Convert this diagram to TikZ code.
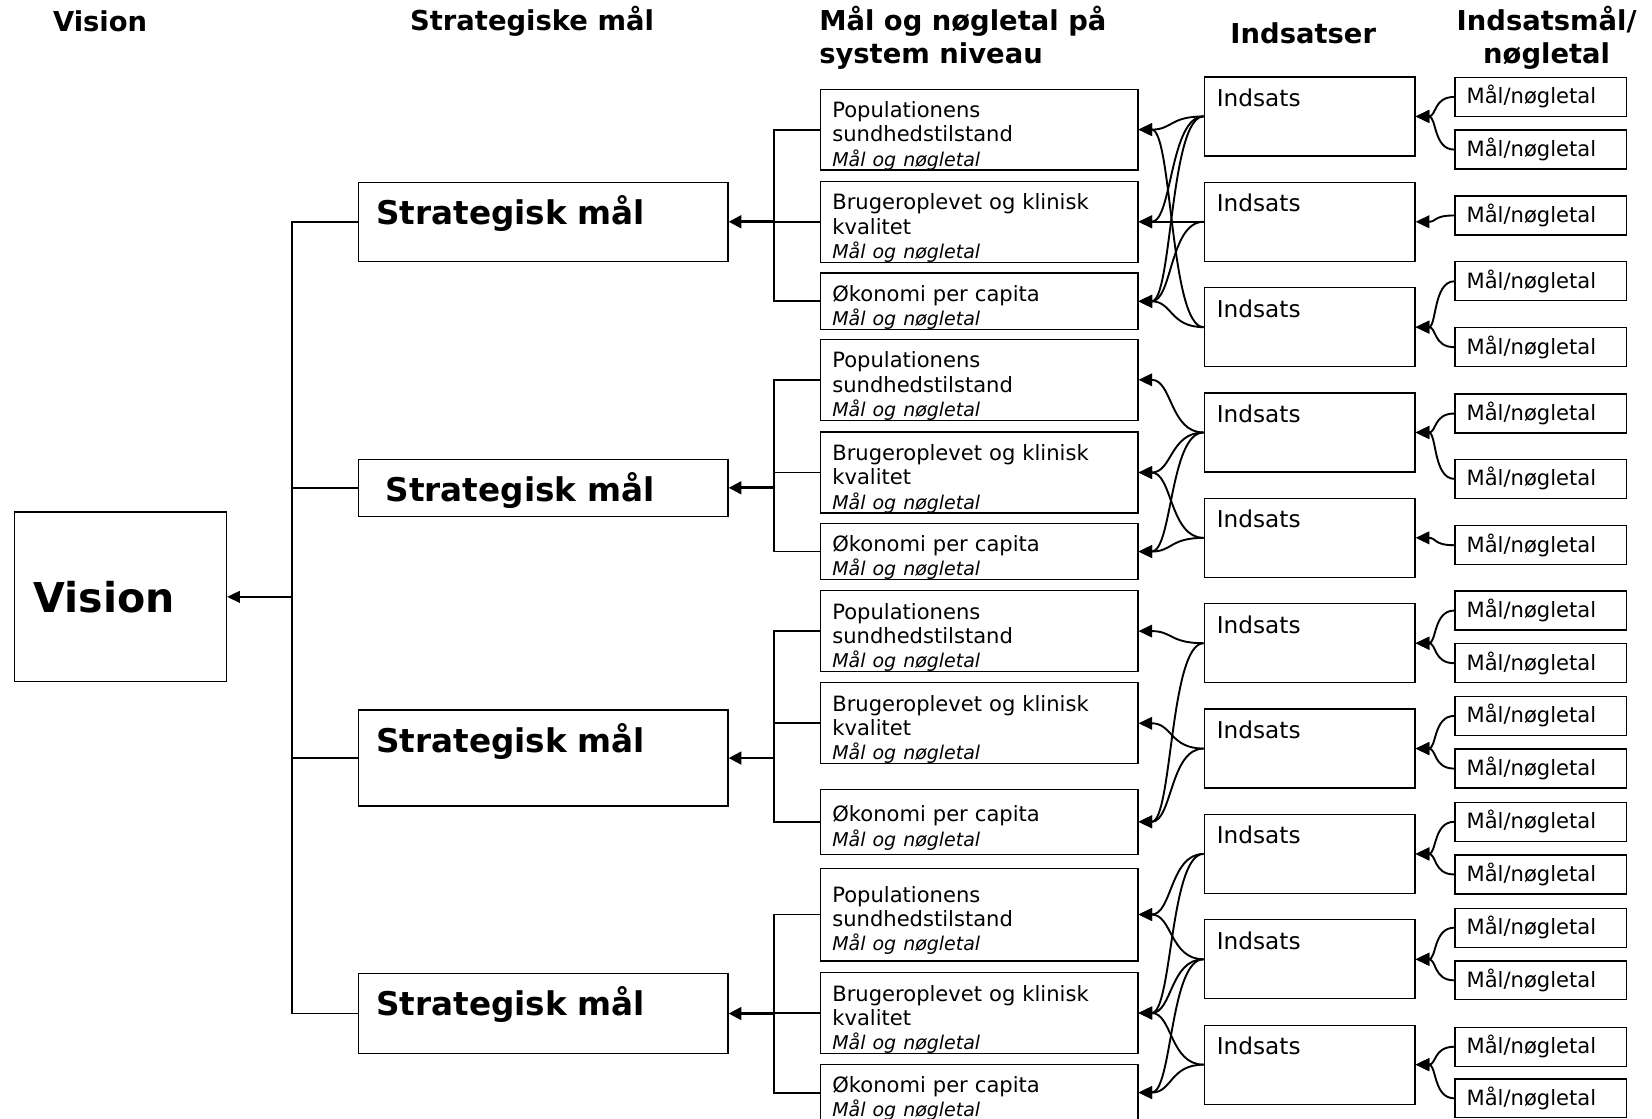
\documentclass[tikz,border=0pt]{standalone}
\usepackage{fontspec}
\setmainfont{DejaVu Sans}
\usetikzlibrary{arrows.meta, positioning}

\newcommand{\maalline}{{\fontsize{18}{22}\selectfont\itshape Mål og nøgletal}}

\begin{document}
\begin{tikzpicture}[
    x=1pt, y=-1pt,
    every node/.style={draw, line width=1.2pt, inner sep=0pt, align=left},
    head/.style={draw=none, font=\fontsize{26}{32}\selectfont\bfseries, align=center},
    visbox/.style={minimum width=201pt, minimum height=161pt, inner xsep=18pt, text width=165pt,
      font=\fontsize{39}{44}\selectfont\bfseries},
    smbox/.style={minimum width=351pt, inner xsep=17pt, inner ysep=6pt, text width=317pt, text height=34pt,
      font=\fontsize{31}{36}\selectfont\bfseries},
    sysbox/.style={minimum width=301pt, inner xsep=11pt, text width=279pt, font=\fontsize{20}{23}\selectfont,
      execute at begin node={\rule{0pt}{27pt}}},
    indbox/.style={minimum width=200pt, inner xsep=12pt, inner ysep=6pt, text width=176pt,
      text height=22pt, text depth=41pt, font=\fontsize{22}{26}\selectfont},
    mbox/.style={minimum width=163pt, minimum height=37pt, inner xsep=11pt, text width=141pt,
      font=\fontsize{20}{24}\selectfont},
    line/.style={line width=1.8pt},
    arr/.style={line width=1.8pt, -{Triangle[length=13pt, width=12pt]}},
    bigarr/.style={line width=2.5pt, -{Triangle[length=12pt, width=12pt]}}
  ]
  \useasboundingbox (0,0) rectangle (1568,1062);

  \node[head] (hvis) at (95,20) {Vision};
  \node[head] (hsm) at (505,20) {Strategiske mål};
  \node[head, anchor=west, align=left] (hsys) at (777,36) {Mål og nøgletal på\\system niveau};
  \node[head] (hind) at (1237,32) {Indsatser};
  \node[head] (hmaal) at (1468,36) {Indsatsmål/\\nøgletal};

  \node[visbox] (vis) at (114.5,566.5) {Vision};

  \node[smbox, text depth=29pt] (sm1) at (515.5,210.5) {Strategisk mål};
  \node[smbox, text depth=8pt, inner xsep=26pt, text width=299pt] (sm2) at (515.5,463) {Strategisk mål};
  \node[smbox, text depth=45pt] (sm3) at (515.5,719.5) {Strategisk mål};
  \node[smbox, text depth=30pt] (sm4) at (515.5,962) {Strategisk mål};

  \foreach \g/\yp/\hp/\yb/\yo/\ho in {1/123/74pt/210.5/286/50pt, 2/360.5/75pt/448.5/523.5/49pt,
      3/599/74pt/686.5/780/62pt, 4/868/88pt/961.5/1037/50pt}{
    \node[sysbox, minimum height=\hp] (pop\g) at (929.5,\yp) {Populationens\\sundhedstilstand\\\maalline};
    \node[sysbox, minimum height=75pt] (bru\g) at (929.5,\yb) {Brugeroplevet og klinisk\\kvalitet\\\maalline};
    \node[sysbox, minimum height=\ho] (oko\g) at (929.5,\yo) {Økonomi per capita\\\maalline};
  }

  \foreach \i in {1,...,10}
    \node[indbox] (ind\i) at (1243,{110.5+100*(\i-1)}) {Indsats};

  \foreach \m/\y/\i in {1a/92/1, 1b/142/1, 2a/204.5/2, 3a/267/3, 3b/329.5/3, 4a/392.5/4, 4b/454.5/4,
      5a/517.5/5, 6a/579.5/6, 6b/629.5/6, 7a/679.5/7, 7b/729.5/7, 8a/780/8, 8b/830/8,
      9a/880.5/9, 9b/930.5/9, 10a/993.5/10, 10b/1042.5/10}{
    \node[mbox] (m\m) at (1462.5,\y) {Mål/nøgletal};
    \draw[arr] (m\m.west) to[out=180, in=0, distance=20pt] (ind\i.east);
  }

  \foreach \i/\t in {1/pop1, 1/bru1, 1/oko1, 2/bru1, 2/oko1, 3/oko1, 3/pop1,
      4/pop2, 4/bru2, 4/oko2, 5/bru2, 5/oko2, 6/pop3, 6/oko3, 7/bru3, 7/oko3,
      8/pop4, 8/bru4, 9/pop4, 9/bru4, 9/oko4, 10/bru4, 10/oko4}
    \draw[arr] (ind\i.west) to[out=180, in=0, distance=32pt] (\t.east);

  \coordinate (vt) at (277,0);
  \coordinate (st) at (735,0);
  \foreach \g in {1,...,4}{
    \draw[line] (pop\g.west) -- (pop\g.west -| st) |- (oko\g.west);
    \draw[line] (bru\g.west) -- (bru\g.west -| st);
    \draw[bigarr] (sm\g.east -| st) -- (sm\g.east);
  }
  \draw[line] (sm1.west) -- (sm1.west -| vt) |- (sm4.west);
  \draw[line] (sm2.west) -- (sm2.west -| vt);
  \draw[line] (sm3.west) -- (sm3.west -| vt);
  \draw[line, -{Triangle[length=12pt, width=11pt]}] (vis.east -| vt) -- (vis.east);
\end{tikzpicture}
\end{document}
